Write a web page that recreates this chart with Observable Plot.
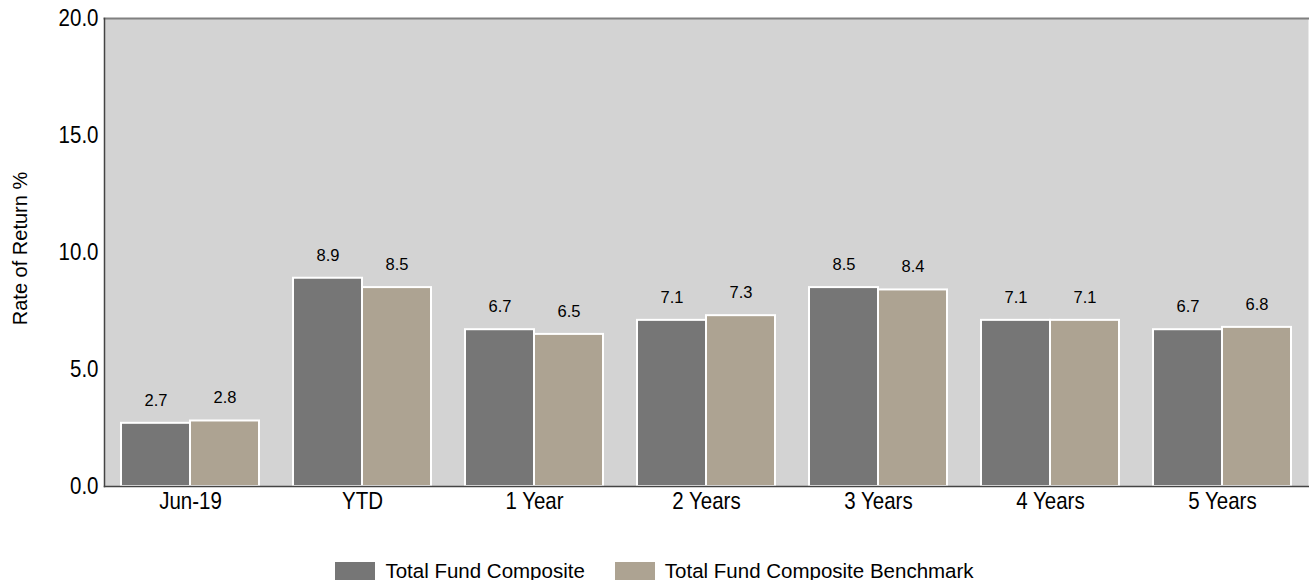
<!DOCTYPE html>
<html><head><meta charset="utf-8">
<script src="https://cdn.jsdelivr.net/npm/d3@7"></script>
<script src="https://cdn.jsdelivr.net/npm/@observablehq/plot@0.6"></script>
<style>
body{margin:0;background:#fff;font-family:"Liberation Sans",Arial,sans-serif;}
#chart svg{display:block;}
#legend{display:flex;justify-content:center;align-items:center;gap:30px;margin-top:10px;font-size:20.5px;line-height:18px;color:#000;}
.item{display:flex;align-items:center;gap:10px;}
.sw{width:40px;height:18px;display:inline-block;}
</style></head>
<body><div id="chart"></div>
<script>
const periods = ["Jun-19","YTD","1 Year","2 Years","3 Years","4 Years","5 Years"];
const seriesNames = ["Total Fund Composite","Total Fund Composite Benchmark"];
const composite = [2.7,8.9,6.7,7.1,8.5,7.1,6.7];
const benchmark = [2.8,8.5,6.5,7.3,8.4,7.1,6.8];
const yTicks = [0,5,10,15,20];
const colors = ["#767676","#ada392"];
const yLabel = "Rate of Return %";

const data = periods.flatMap((p,i)=>[
  {period:p, series:seriesNames[0], value:composite[i]},
  {period:p, series:seriesNames[1], value:benchmark[i]}
]);
const font = "'Liberation Sans',Arial,sans-serif";

const chart = Plot.plot({
  width:1309, height:552,
  marginTop:18, marginLeft:103, marginRight:0, marginBottom:66,
  style:{fontFamily:font, background:"#fff", color:"#000"},
  fx:{domain:periods, paddingInner:0, paddingOuter:0, label:null, axis:null},
  x:{domain:seriesNames, axis:null, paddingInner:0, paddingOuter:0.24},
  y:{domain:[0,20], label:null, axis:null},
  color:{domain:seriesNames, range:colors},
  marks:[
    Plot.frame({fill:"#d3d3d3", stroke:null, facet:"super"}),
    Plot.frame({anchor:"top", stroke:"#808080", strokeWidth:2, facet:"super"}),
    Plot.barY(data, {fx:"period", x:"series", y:"value", fill:"series", stroke:"white", strokeWidth:2}),
    Plot.text(data, {fx:"period", x:"series", y:"value", text:d=>d.value.toFixed(1), dy:-23, fontSize:16.5, fill:"#000", ariaLabel:"value"}),
    Plot.frame({anchor:"bottom", stroke:"#444", strokeWidth:1.5, facet:"super"}),
    Plot.frame({anchor:"left", stroke:"#444", strokeWidth:1.5, facet:"super"}),
    Plot.axisY({ticks:yTicks, tickFormat:d3.format(".1f"), tickSize:0, tickPadding:6, fontSize:20.5, label:null}),
    Plot.axisFx({domain:periods, tickSize:0, tickPadding:7, fontSize:20.5, label:null, anchor:"bottom"}),
    Plot.text([yLabel], {text:d=>d, frameAnchor:"left", textAnchor:"middle", rotate:-90, dx:-84, dy:-4, fontSize:20, fill:"#000", facet:"super", ariaLabel:"ylabel"})
  ]
});
document.getElementById("chart").appendChild(chart);
// taller, narrower-looking glyphs for tick and value labels (keeps Plot's own positioning)
d3.select(chart)
  .selectAll("g[aria-label='value'] text, g[aria-label='y-axis tick label'] text, g[aria-label='fx-axis tick label'] text")
  .each(function(){
    const t = this.getAttribute("transform") || "";
    const m = t.match(/translate\(\s*([-\d.e]+)[ ,]+([-\d.e]+)\s*\)/);
    const tr = m ? `translate(${m[1]}px, ${m[2]}px) ` : "";
    this.removeAttribute("transform");
    this.style.transformBox = "fill-box";
    this.style.transformOrigin = "center";
    this.style.transform = tr + "scaleY(1.2)";
  });

const legend = document.createElement("div");
legend.id = "legend";
seriesNames.forEach((s,i)=>{
  const it = document.createElement("div"); it.className="item";
  const sw = document.createElement("span"); sw.className="sw"; sw.style.background=colors[i];
  const t = document.createElement("span"); t.textContent=s;
  it.appendChild(sw); it.appendChild(t); legend.appendChild(it);
});
document.body.appendChild(legend);
</script></body></html>
